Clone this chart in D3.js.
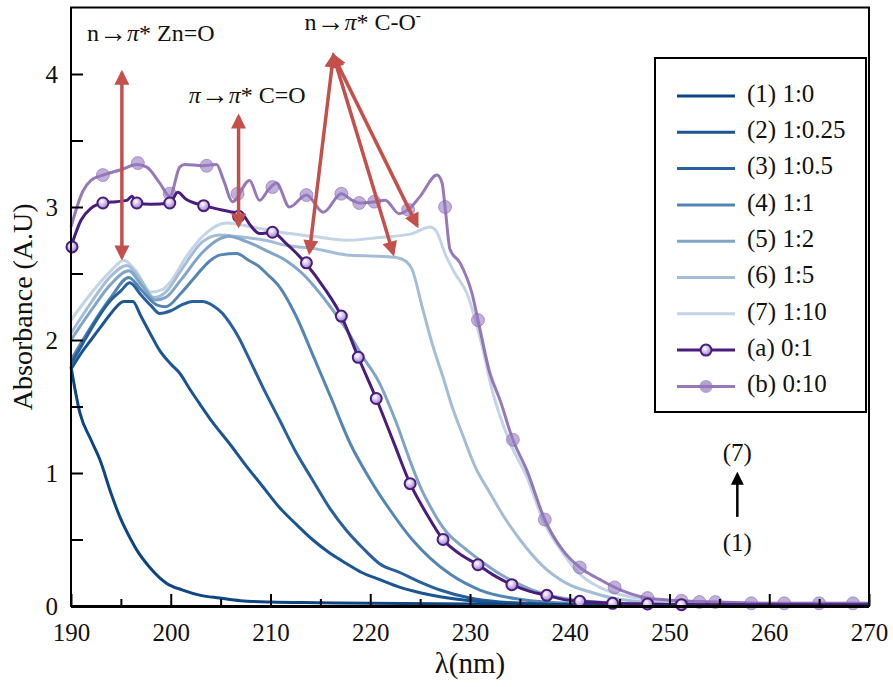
<!DOCTYPE html>
<html><head><meta charset="utf-8">
<script src="https://cdn.jsdelivr.net/npm/d3@7"></script>
<style>
html,body{margin:0;padding:0;background:#fff;}
svg{display:block;}
svg text{font-family:"Liberation Serif","Times New Roman",serif;}
</style></head>
<body><svg id="chart" width="893" height="687"></svg>
<script>
// ---------- DATA ----------
const xTicks = [190,200,210,220,230,240,250,260,270];
const yTicks = [0,1,2,3,4];

const legendLabels = ["(1) 1:0","(2) 1:0.25","(3) 1:0.5","(4) 1:1","(5) 1:2","(6) 1:5","(7) 1:10","(a) 0:1","(b) 0:10"];

const wl1 = [190,190.9,192,192.9,194,194.9,196,196.6,197.9,199.6,201.2,203,204.9,207,210,215,220,230,240,250,260,270];
const ab1 = [1.80,1.45,1.25,1.10,0.85,0.67,0.50,0.42,0.29,0.17,0.12,0.08,0.06,0.04,0.03,0.025,0.02,0.015,0.01,0.01,0.01,0.01];

const wl2 = [190,191,192,193,194,195.3,196.2,197,198,198.9,200,200.9,202,202.9,204.2,205.9,207.6,209.2,210.9,212.5,214.2,215.9,217.6,219.2,220.9,223,225,227,230,233,236,240,250,270];
const ab2 = [1.78,1.90,2.00,2.10,2.20,2.29,2.29,2.18,2.04,1.92,1.82,1.75,1.62,1.52,1.38,1.22,1.05,0.90,0.74,0.62,0.50,0.40,0.32,0.25,0.20,0.14,0.10,0.07,0.04,0.025,0.015,0.01,0.01,0.01];

const wl3 = [190,191,192,193,194,195,195.9,197,198,198.9,200,201,202.2,203.2,204.2,205.2,205.9,206.8,207.6,209.2,210.9,212.6,214.2,215.9,217.6,219.2,220.9,223,225,227,230,233,236,240,250,270];
const ab3 = [1.82,1.95,2.08,2.20,2.30,2.37,2.43,2.34,2.26,2.20,2.22,2.26,2.29,2.29,2.26,2.20,2.13,2.02,1.90,1.65,1.40,1.15,0.95,0.74,0.57,0.44,0.32,0.25,0.18,0.12,0.06,0.03,0.02,0.01,0.01,0.01];

const wl4 = [190,192,194,195.8,197,198.7,199.5,201,202.5,204,205,206.6,207.8,208.9,209.6,210.9,212.5,214.4,216.1,218,220,222,224.2,226,228,231,235,240,250,270];
const ab4 = [1.85,2.10,2.32,2.47,2.38,2.26,2.25,2.35,2.48,2.60,2.64,2.65,2.60,2.55,2.50,2.40,2.19,1.86,1.56,1.22,0.95,0.72,0.50,0.36,0.24,0.12,0.05,0.02,0.01,0.01];

const wl5 = [190,192,194,195.8,197,198.5,199.5,201,203.2,204.9,205.8,207.6,209.9,211.5,213.2,214.2,216,217.6,219.2,220.9,222.5,224.2,225,226,227.6,229.2,230.9,233,235,237,240,245,250,270];
const ab5 = [2.00,2.22,2.42,2.52,2.42,2.30,2.32,2.45,2.66,2.76,2.78,2.74,2.66,2.60,2.50,2.42,2.25,2.08,1.88,1.68,1.40,1.05,0.90,0.75,0.56,0.45,0.35,0.24,0.16,0.10,0.05,0.02,0.01,0.01];

const wl6 = [190,192,194,195.6,197,198.3,199.5,201,203.2,204.9,206.5,207.6,209.5,211.6,214.2,217.6,220.9,222.6,223.6,224.2,225.2,226.3,227.3,228.2,229.3,230.5,232,233,235,237.3,239.7,242.3,245,250,270];
const ab6 = [2.05,2.28,2.48,2.56,2.45,2.32,2.36,2.52,2.74,2.79,2.78,2.77,2.75,2.71,2.69,2.64,2.63,2.62,2.59,2.53,2.25,1.95,1.72,1.50,1.28,1.05,0.85,0.72,0.50,0.30,0.17,0.10,0.05,0.02,0.01];

const wl7 = [190,192,194,195.3,196.5,198,199.2,200,201.5,203.2,205.6,208.2,211,214.2,217.6,220.9,224.2,226,226.6,227.6,228.5,229.7,231,232.3,234,235.7,237.3,239.3,241.3,243,246,250,260,270];
const ab7 = [2.15,2.35,2.52,2.60,2.52,2.36,2.38,2.44,2.62,2.78,2.88,2.85,2.81,2.78,2.75,2.77,2.80,2.85,2.82,2.63,2.50,2.35,2.02,1.60,1.23,0.97,0.65,0.40,0.22,0.14,0.07,0.04,0.02,0.02];

const wlA = [190,191,192,193.2,194.5,195.6,196.1,196.6,198,199.9,200.7,201.5,203.3,205,206.3,207.1,208,208.9,210.2,211.5,212.5,213.6,215.3,217.1,218.8,220.6,222.3,224,225.6,227.3,229,230.8,232.4,234.2,236,237.7,239.3,241,244.3,247.8,251.2,255,260,265,270];
const abA = [2.70,2.90,2.99,3.03,3.04,3.05,3.08,3.03,3.02,3.03,3.11,3.06,3.01,2.98,2.96,2.95,2.86,2.80,2.81,2.73,2.66,2.57,2.40,2.18,1.87,1.56,1.24,0.92,0.70,0.50,0.39,0.31,0.23,0.16,0.11,0.08,0.05,0.035,0.02,0.015,0.01,0.01,0.01,0.01,0.01];
const mkWlA = [190.1,193.2,196.6,199.9,203.3,206.8,210.2,213.6,217.1,218.8,220.6,224,227.3,230.8,234.2,237.7,241,244.3,247.8,251.2];
const mkAbA = [2.70,3.03,3.03,3.03,3.01,2.93,2.81,2.58,2.18,1.87,1.56,0.92,0.50,0.31,0.16,0.08,0.035,0.02,0.015,0.01];

const wlB = [190,191.2,192,193.2,195,196.6,197.6,198.9,199.9,200.9,201.4,203.2,204.6,205.3,206.2,207.9,208.9,209.8,210.6,211.9,213.6,215.3,217.1,218.2,218.9,220.5,221.5,222.9,223.8,225,226.7,227.2,227.5,228,229,230.2,230.8,232,233,234.3,235.7,237.5,239.3,241,243,244.5,247.8,251,255,260,270];
const abB = [2.85,3.12,3.20,3.24,3.28,3.32,3.30,3.18,3.08,3.30,3.32,3.31,3.32,3.20,3.04,3.20,3.05,3.13,3.18,3.00,3.09,2.96,3.10,3.05,3.03,3.04,3.05,2.95,2.98,3.08,3.24,3.18,3.00,2.68,2.58,2.35,2.15,1.75,1.55,1.25,1.02,0.65,0.42,0.29,0.20,0.14,0.06,0.04,0.03,0.02,0.02];
const mkWlB = [193.2,196.7,199.9,203.6,206.7,210.2,213.6,217.1,218.9,220.4,223.8,227.5,230.8,234.3,237.5,241,244.5,247.8,251.2,253,254.6,258.2,261.5,265,268.4];
const mkAbB = [3.24,3.33,3.10,3.31,3.10,3.15,3.09,3.10,3.03,3.04,2.98,3.00,2.15,1.25,0.65,0.29,0.14,0.06,0.04,0.03,0.03,0.02,0.02,0.02,0.02];

// annotations in data units [λ, absorbance]
const annZn = {text:"Zn=O", tx:[191.6,4.25], from:[195.1,4.01], to:[195.1,2.62]};
const annCO = {text:"C=O", tx:[201.8,3.78], from:[206.8,3.68], to:[206.8,2.86]};
const annCOm = {tx:[213.4,4.33], from:[216.3,4.14], to:[[213.9,2.66],[222.3,2.65],[224.7,2.86]]};
const seriesArrow = {x:256.8, from:0.67, to:0.99, top:"(7)", topY:1.13, bottom:"(1)", bottomY:0.46};

// ---------- DRAW ----------
const svg = d3.select("#chart");
const x = d3.scaleLinear().domain([190,270]).range([71,869]);
const y = d3.scaleLinear().domain([0,4.5]).range([606,7.5]);
const SERIF = '"Liberation Serif","Times New Roman",serif';

const blueColors = ['#0e4682','#1a5592','#27609c','#5585b2','#80a5c8','#a3bdd6','#c2d4e6'];
const colA = '#4a1c7c', colB = '#8462ad', red = '#c4504b';

const defs = svg.append("defs");
const grad = defs.append("radialGradient").attr("id","gA").attr("cx","40%").attr("cy","35%").attr("r","65%");
grad.append("stop").attr("offset","0%").attr("stop-color","#ffffff");
grad.append("stop").attr("offset","60%").attr("stop-color","#c7b3e3");
grad.append("stop").attr("offset","100%").attr("stop-color","#9a7cc6");
function arrowMarker(id,color,w,h){
  defs.append("marker").attr("id",id).attr("viewBox","0 0 10 10").attr("refX",8).attr("refY",5)
   .attr("markerUnits","userSpaceOnUse").attr("markerWidth",w).attr("markerHeight",h)
   .attr("orient","auto-start-reverse")
   .append("path").attr("d","M0,0 L10,5 L0,10 z").attr("fill",color);
}
arrowMarker("ar",red,17,15);
arrowMarker("ak","#000",14,13);

const line = d3.line().x(d=>x(d[0])).y(d=>y(d[1])).curve(d3.curveMonotoneX);
const zip = (a,b)=>a.map((v,i)=>[v,b[i]]);

const blues = [[wl1,ab1],[wl2,ab2],[wl3,ab3],[wl4,ab4],[wl5,ab5],[wl6,ab6],[wl7,ab7]];
const gPlot = svg.append("g");
for (let i = blues.length-1; i>=0; i--){
  gPlot.append("path").datum(zip(blues[i][0],blues[i][1]))
    .attr("fill","none").attr("stroke",blueColors[i]).attr("stroke-width",3)
    .attr("stroke-linejoin","round").attr("d",line);
}
// (b)
gPlot.append("path").datum(zip(wlB,abB)).attr("fill","none").attr("stroke",colB)
  .attr("stroke-opacity",0.85).attr("stroke-width",3).attr("stroke-linejoin","round").attr("d",line);
gPlot.selectAll("circle.mb").data(zip(mkWlB,mkAbB)).join("circle").attr("class","mb")
  .attr("cx",d=>x(d[0])).attr("cy",d=>y(d[1])).attr("r",6.5)
  .attr("fill","#9579bf").attr("fill-opacity",0.6).attr("stroke","#7d5aa8").attr("stroke-opacity",0.5);
// (a)
gPlot.append("path").datum(zip(wlA,abA)).attr("fill","none").attr("stroke",colA)
  .attr("stroke-width",3).attr("stroke-linejoin","round").attr("d",line);
gPlot.selectAll("circle.ma").data(zip(mkWlA,mkAbA)).join("circle").attr("class","ma")
  .attr("cx",d=>x(d[0])).attr("cy",d=>y(d[1])).attr("r",5.5)
  .attr("fill","url(#gA)").attr("stroke",colA).attr("stroke-width",2);

// ---------- AXES ----------
const fontTick = 25;
const xAxis = d3.axisBottom(x).tickValues(xTicks).tickSize(-12).tickFormat(d3.format("d"));
const gx = svg.append("g").attr("transform","translate(0,606)").call(xAxis);
gx.attr("font-family",null).attr("font-size",null);
gx.select(".domain").remove();
gx.selectAll("line").attr("stroke","#000").attr("stroke-width",2);
gx.selectAll("text").attr("font-size",fontTick).style("font-family",SERIF).attr("fill","#111").attr("y",17).attr("dy","0.71em");
const xMinor = d3.axisBottom(x).tickValues(d3.range(195,270,10)).tickSize(-7).tickFormat("");
const gxm = svg.append("g").attr("transform","translate(0,606)").call(xMinor);
gxm.select(".domain").remove();
gxm.selectAll("line").attr("stroke","#000").attr("stroke-width",2);

const yAxis = d3.axisLeft(y).tickValues(yTicks).tickSize(-12).tickFormat(d3.format("d"));
const gy = svg.append("g").attr("transform","translate(71,0)").call(yAxis);
gy.attr("font-family",null).attr("font-size",null);
gy.select(".domain").remove();
gy.selectAll("line").attr("stroke","#000").attr("stroke-width",2);
gy.selectAll("text").attr("font-size",fontTick).style("font-family",SERIF).attr("fill","#111").attr("x",-13);
const yMinor = d3.axisLeft(y).tickValues([0.5,1.5,2.5,3.5]).tickSize(-12).tickFormat("");
const gym = svg.append("g").attr("transform","translate(71,0)").call(yMinor);
gym.select(".domain").remove();
gym.selectAll("line").attr("stroke","#000").attr("stroke-width",2);

// frame
svg.append("rect").attr("x",x(190)).attr("y",y(4.5)).attr("width",x(270)-x(190)).attr("height",y(0)-y(4.5))
  .attr("fill","none").attr("stroke","#000").attr("stroke-width",2);
svg.append("line").attr("x1",x(190)).attr("x2",x(270)).attr("y1",y(0)+1).attr("y2",y(0)+1).attr("stroke","#000").attr("stroke-width",2);

// titles
svg.append("text").attr("x",(x(190)+x(270))/2).attr("y",673).attr("text-anchor","middle")
  .attr("font-size",29).attr("fill","#111").text("λ(nm)");
svg.append("text").attr("transform",`translate(32,${(y(0)+y(4.5))/2}) rotate(-90)`).attr("text-anchor","middle")
  .attr("font-size",28).attr("fill","#111").text("Absorbance (A.U)");

// ---------- ANNOTATIONS ----------
const fontAnn = 24;
function transLabel(pos, lhs, rhs, sup){
  const t = svg.append("text").attr("x",x(pos[0])).attr("y",y(pos[1])).attr("font-size",fontAnn).attr("fill","#111");
  if (lhs === "n") t.append("tspan").text("n");
  else t.append("tspan").attr("font-style","italic").text("π");
  t.append("tspan").attr("font-size",28).attr("dy",1).text("→");
  t.append("tspan").attr("font-style","italic").attr("dy",-1).text("π");
  t.append("tspan").text("* " + rhs);
  if (sup) t.append("tspan").attr("font-size",15).attr("dy",-10).text("-");
}
transLabel(annZn.tx,"n",annZn.text);
transLabel(annCO.tx,"pi",annCO.text);
transLabel(annCOm.tx,"n","C-O",true);

function redArrow(f,t){
  svg.append("line").attr("x1",x(f[0])).attr("y1",y(f[1])).attr("x2",x(t[0])).attr("y2",y(t[1]))
    .attr("stroke",red).attr("stroke-width",3.5).attr("marker-start","url(#ar)").attr("marker-end","url(#ar)");
}
redArrow(annZn.from,annZn.to);
redArrow(annCO.from,annCO.to);
annCOm.to.forEach(t=>redArrow(annCOm.from,t));

// black series arrow
svg.append("line").attr("x1",x(seriesArrow.x)).attr("x2",x(seriesArrow.x))
  .attr("y1",y(seriesArrow.from)).attr("y2",y(seriesArrow.to))
  .attr("stroke","#000").attr("stroke-width",2.5).attr("marker-end","url(#ak)");
svg.append("text").attr("x",x(seriesArrow.x)).attr("y",y(seriesArrow.topY)).attr("text-anchor","middle")
  .attr("dominant-baseline","middle").attr("font-size",fontTick).attr("fill","#111").text(seriesArrow.top);
svg.append("text").attr("x",x(seriesArrow.x)).attr("y",y(seriesArrow.bottomY)).attr("text-anchor","middle")
  .attr("dominant-baseline","middle").attr("font-size",fontTick).attr("fill","#111").text(seriesArrow.bottom);

// ---------- LEGEND ----------
const lg = svg.append("g").attr("transform","translate(655,58)");
lg.append("rect").attr("x",0).attr("y",0).attr("width",211).attr("height",354)
  .attr("fill","#fff").attr("stroke","#000").attr("stroke-width",2);
const legColors = blueColors.concat([colA,colB]);
legendLabels.forEach((lab,i)=>{
  const yy = 38 + i*36.3;
  const g = lg.append("g").attr("transform",`translate(0,${yy})`);
  g.append("line").attr("x1",22).attr("x2",80).attr("stroke",legColors[i]).attr("stroke-width",3)
    .attr("stroke-opacity", i===8?0.85:1);
  if (i===7) g.append("circle").attr("cx",51).attr("r",5.5).attr("fill","url(#gA)").attr("stroke",colA).attr("stroke-width",2);
  if (i===8) g.append("circle").attr("cx",51).attr("r",6.5).attr("fill","#9579bf").attr("fill-opacity",0.7);
  g.append("text").attr("x",92).attr("dominant-baseline","middle").attr("font-size",fontTick).attr("fill","#111").text(lab);
});
</script>
</body></html>
